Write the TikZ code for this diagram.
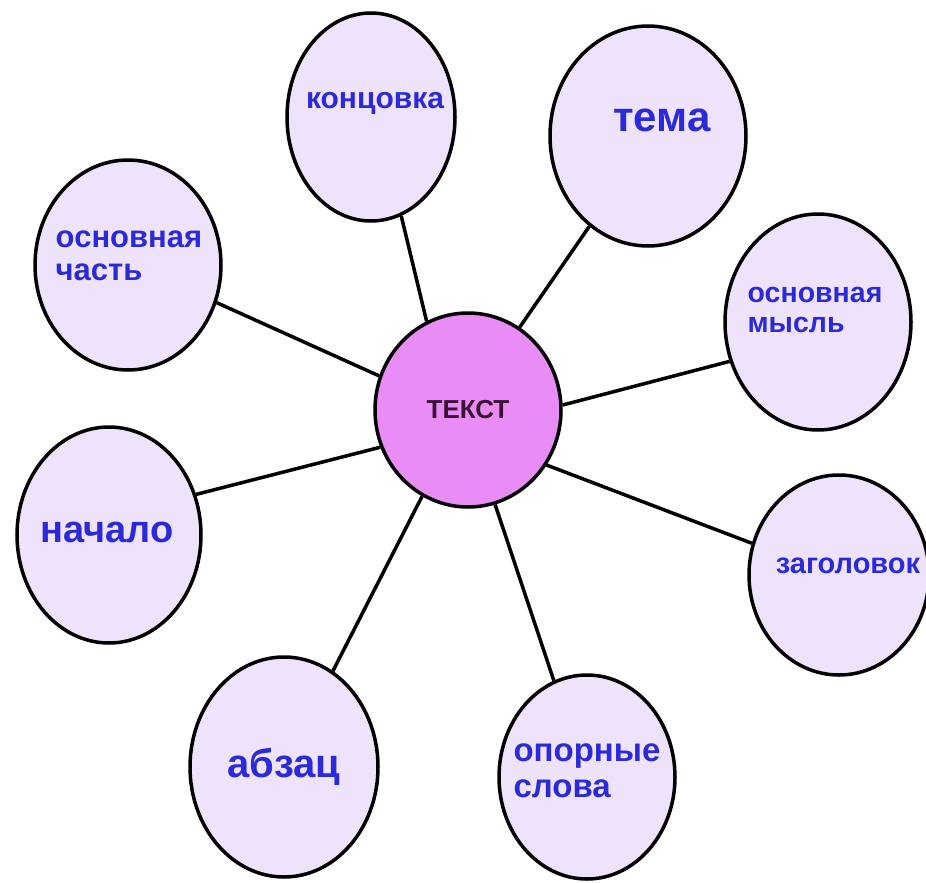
\documentclass[tikz,border=0pt]{standalone}
\usepackage{fontspec}
\setmainfont{Liberation Sans}
\usepackage{tikz}
\usetikzlibrary{shapes.geometric}

\definecolor{petal}{HTML}{EFE3FB}
\definecolor{core}{HTML}{E98CF6}
\definecolor{ink}{HTML}{2A2AD8}
\definecolor{coreink}{HTML}{3B1236}

\newcommand{\fs}[1]{\fontsize{#1}{1.08\dimexpr#1pt\relax}\selectfont\bfseries}

\begin{document}
\begin{tikzpicture}[x=1pt,y=-1pt,
    idea/.style={ellipse, draw=black, line width=3.5pt, fill=petal, inner sep=0pt},
    hub/.style={ellipse, draw=black, line width=3.5pt, fill=core, inner sep=0pt},
    lbl/.style={text=ink, align=left, inner sep=0pt}]
    \useasboundingbox (0,0) rectangle (926,883);

    % Draw outer ellipses
    \node[idea, minimum width=168pt, minimum height=208pt,
      label={[lbl, font=\fs{30}, xshift=4pt, yshift=14pt]center:концовка}] (kon) at (371,117) {};
    \node[idea, minimum width=196pt, minimum height=220pt,
      label={[lbl, font=\fs{42}, xshift=14pt, yshift=16pt]center:тема}] (tema) at (648,136) {};
    \node[idea, minimum width=186pt, minimum height=210pt,
      label={[lbl, font=\fs{31}, xshift=1pt, yshift=9pt]center:основная\\часть}] (chast) at (128,265) {};
    \node[idea, minimum width=186pt, minimum height=216pt,
      label={[lbl, font=\fs{28.5}, xshift=-3pt, yshift=12pt]center:основная\\мысль}] (mysl) at (818,322) {};
    \node[idea, minimum width=184pt, minimum height=216pt,
      label={[lbl, font=\fs{38}, xshift=-2pt, yshift=3pt]center:начало}] (nach) at (109,535) {};
    \node[idea, minimum width=180pt, minimum height=200pt,
      label={[lbl, font=\fs{29}, xshift=9pt, yshift=9pt]center:заголовок}] (zag) at (839,575) {};
    \node[idea, minimum width=188pt, minimum height=220pt,
      label={[lbl, font=\fs{40}, xshift=0pt, yshift=0pt]center:абзац}] (abz) at (284,767) {};
    \node[idea, minimum width=176pt, minimum height=204pt,
      label={[lbl, font=\fs{33}, xshift=0pt, yshift=6pt]center:опорные\\слова}] (opor) at (587,777) {};

    % Draw centre ellipse
    \node[hub, minimum width=186pt, minimum height=194pt,
      label={[text=coreink, font=\fs{26}, inner sep=0pt]center:ТЕКСТ}] (tekst) at (468,410) {};

    % Draw spokes
    \draw[line width=3.5pt] (tekst.115) -- (kon.-73);
    \draw[line width=3.5pt] (tekst.58) -- (tema.-123);
    \draw[line width=3.5pt] (tekst.159) -- (chast.-23);
    \draw[line width=3.5pt] (tekst.3) -- (mysl.-156);
    \draw[line width=3.5pt] (tekst.-157) -- (nach.25);
    \draw[line width=3.5pt] (tekst.-35) -- (zag.160);
    \draw[line width=3.5pt] (tekst.-118) -- (abz.63);
    \draw[line width=3.5pt] (tekst.-74) -- (opor.109);
\end{tikzpicture}
\end{document}
